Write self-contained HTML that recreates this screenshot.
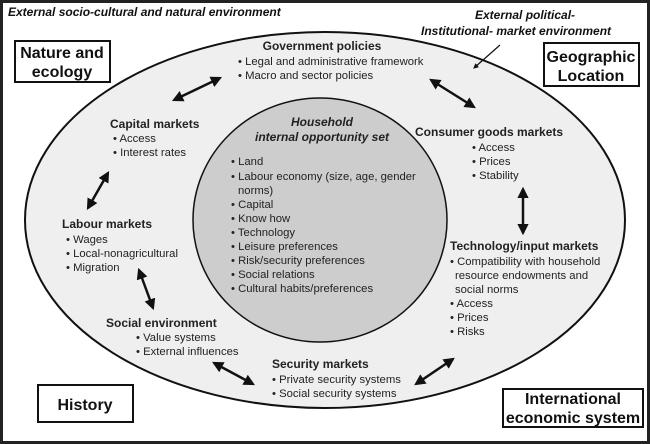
<!DOCTYPE html>
<html><head><meta charset="utf-8"><style>
body{margin:0;background:#fff}
svg{display:block;font-family:"Liberation Sans",Arial,sans-serif}
.h{font-weight:bold;font-size:12px;fill:#222}
.t{font-size:11.3px;fill:#222}
.b{font-size:16px;fill:#111;font-weight:bold}
.e{font-size:12px;fill:#111;font-weight:bold;font-style:italic}
</style></head><body>
<svg width="650" height="444" viewBox="0 0 650 444">
<defs><marker id="a" viewBox="0 0 10 10" refX="8" refY="5" markerWidth="4.5" markerHeight="4.5" orient="auto-start-reverse"><path d="M0,0L10,5L0,10z" fill="#111"/></marker></defs>
<rect x="1.5" y="1.5" width="647" height="441" fill="#fff" stroke="#222" stroke-width="3"/>
<ellipse cx="325" cy="220" rx="300" ry="188" fill="#efefef" stroke="#111" stroke-width="2"/>
<ellipse cx="320" cy="220" rx="127" ry="122" fill="#cdcdcd" stroke="#111" stroke-width="1.5"/>
<text x="8" y="16" class="e">External  socio-cultural and natural environment</text>
<text x="475" y="19" class="e">External  political-</text>
<text x="421" y="35" class="e">Institutional-  market environment</text>
<line x1="500" y1="45" x2="474" y2="68" stroke="#111" stroke-width="1.2" marker-end="url(#a)"/>
<rect x="15" y="41" width="95" height="41" fill="#fff" stroke="#111" stroke-width="2"/>
<text x="62" y="58" class="b" text-anchor="middle">Nature and</text><text x="62" y="77" class="b" text-anchor="middle">ecology</text>
<rect x="544" y="43" width="95" height="43" fill="#fff" stroke="#111" stroke-width="2"/>
<text x="591" y="62" class="b" text-anchor="middle">Geographic</text><text x="591" y="81" class="b" text-anchor="middle">Location</text>
<rect x="38" y="385" width="95" height="37" fill="#fff" stroke="#111" stroke-width="2"/>
<text x="85" y="410" class="b" text-anchor="middle">History</text>
<rect x="503" y="389" width="140" height="38" fill="#fff" stroke="#111" stroke-width="2"/>
<text x="573" y="404" class="b" text-anchor="middle">International</text><text x="573" y="423" class="b" text-anchor="middle">economic system</text>
<text x="322" y="50" class="h" text-anchor="middle">Government policies</text>
<text x="238" y="65" class="t">• Legal and administrative framework</text>
<text x="238" y="79" class="t">• Macro and sector policies</text>
<text x="110" y="128" class="h">Capital markets</text>
<text x="113" y="142" class="t">• Access</text><text x="113" y="156" class="t">• Interest rates</text>
<text x="62" y="228" class="h">Labour markets</text>
<text x="66" y="243" class="t">• Wages</text><text x="66" y="257" class="t">• Local-nonagricultural</text><text x="66" y="271" class="t">• Migration</text>
<text x="106" y="327" class="h">Social environment</text>
<text x="136" y="341" class="t">• Value systems</text><text x="136" y="355" class="t">• External influences</text>
<text x="272" y="368" class="h">Security markets</text>
<text x="272" y="383" class="t">• Private security systems</text><text x="272" y="397" class="t">• Social security systems</text>
<text x="415" y="136" class="h">Consumer goods markets</text>
<text x="472" y="151" class="t">• Access</text><text x="472" y="165" class="t">• Prices</text><text x="472" y="179" class="t">• Stability</text>
<text x="450" y="250" class="h">Technology/input markets</text>
<text x="450" y="265" class="t">• Compatibility with household</text><text x="455" y="279" class="t">resource endowments and</text><text x="455" y="293" class="t">social norms</text>
<text x="450" y="307" class="t">• Access</text><text x="450" y="321" class="t">• Prices</text><text x="450" y="335" class="t">• Risks</text>
<text x="322" y="126" class="h" text-anchor="middle" font-style="italic">Household</text>
<text x="322" y="141" class="h" text-anchor="middle" font-style="italic">internal opportunity set</text>
<g class="t">
<text x="231" y="165">• Land</text>
<text x="231" y="180">• Labour economy (size, age, gender</text>
<text x="238" y="194">norms)</text>
<text x="231" y="208">• Capital</text>
<text x="231" y="222">• Know how</text>
<text x="231" y="236">• Technology</text>
<text x="231" y="250">• Leisure preferences</text>
<text x="231" y="264">• Risk/security preferences</text>
<text x="231" y="278">• Social relations</text>
<text x="231" y="292">• Cultural habits/preferences</text>
</g>
<g stroke="#111" stroke-width="2.5" marker-start="url(#a)" marker-end="url(#a)">
<line x1="174" y1="100" x2="220" y2="78"/>
<line x1="431" y1="80" x2="474" y2="107"/>
<line x1="523" y1="189" x2="523" y2="233"/>
<line x1="108" y1="173" x2="88" y2="208"/>
<line x1="139" y1="270" x2="153" y2="308"/>
<line x1="214" y1="363" x2="253" y2="384"/>
<line x1="416" y1="384" x2="453" y2="359"/>
</g>
</svg>
</body></html>
